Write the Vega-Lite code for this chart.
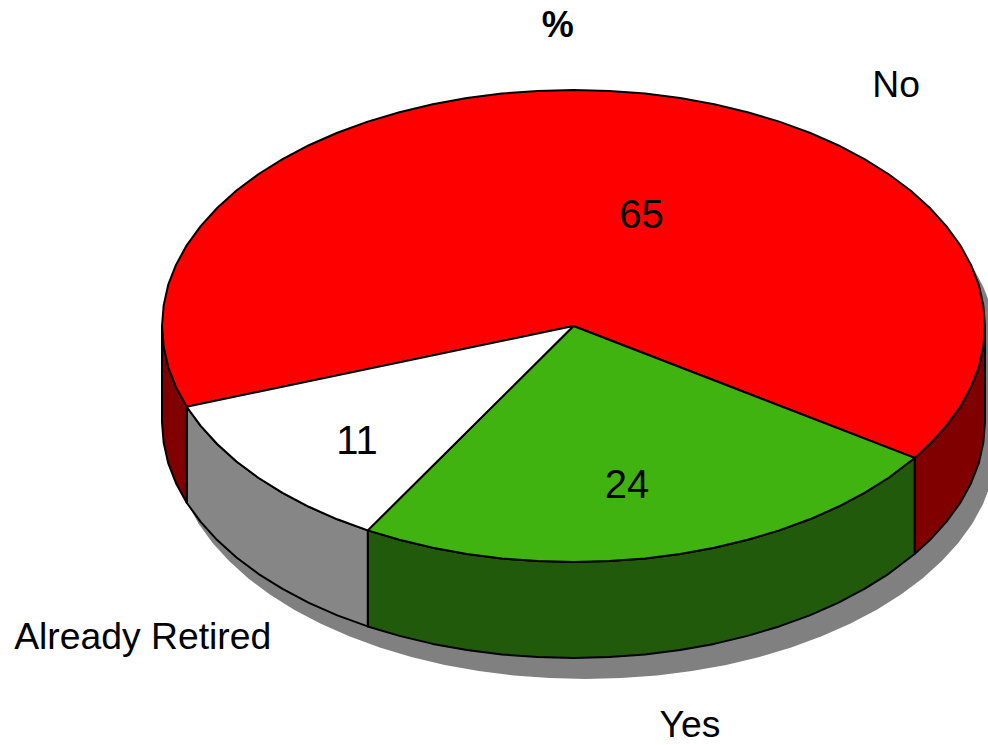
{
"$schema":"https://vega.github.io/schema/vega-lite/v6.json",
"width":988,"height":745,"autosize":"none","padding":0,
"background":"white","view":{"stroke":null},
"datasets":{
"shadow":[
{"i":0,"u":1.029,"v":0.496},{"i":1,"u":1.025,"v":0.583},{"i":2,"u":1.014,"v":0.67},{"i":3,"u":0.995,"v":0.755},{"i":4,"u":0.969,"v":0.838},{"i":5,"u":0.935,"v":0.919},{"i":6,"u":0.895,"v":0.996},{"i":7,"u":0.848,"v":1.07},{"i":8,"u":0.795,"v":1.139},{"i":9,"u":0.736,"v":1.203},{"i":10,"u":0.672,"v":1.262},{"i":11,"u":0.603,"v":1.315},{"i":12,"u":0.529,"v":1.362},{"i":13,"u":0.452,"v":1.402},{"i":14,"u":0.371,"v":1.436},{"i":15,"u":0.288,"v":1.462},{"i":16,"u":0.203,"v":1.481},{"i":17,"u":0.116,"v":1.492},{"i":18,"u":0.029,"v":1.496},{"i":19,"u":-0.058,"v":1.492},{"i":20,"u":-0.145,"v":1.481},{"i":21,"u":-0.23,"v":1.462},{"i":22,"u":-0.313,"v":1.436},{"i":23,"u":-0.394,"v":1.402},{"i":24,"u":-0.471,"v":1.362},{"i":25,"u":-0.545,"v":1.315},{"i":26,"u":-0.614,"v":1.262},{"i":27,"u":-0.678,"v":1.203},{"i":28,"u":-0.737,"v":1.139},{"i":29,"u":-0.79,"v":1.07},{"i":30,"u":-0.837,"v":0.996},{"i":31,"u":-0.877,"v":0.919},{"i":32,"u":-0.911,"v":0.838},{"i":33,"u":-0.937,"v":0.755},{"i":34,"u":-0.956,"v":0.67},{"i":35,"u":-0.967,"v":0.583},{"i":36,"u":-0.971,"v":0.496},
{"i":37,"u":-0.971,"v":0.089},{"i":38,"u":-0.837,"v":-0.411},{"i":39,"u":-0.471,"v":-0.777},{"i":40,"u":0.029,"v":-0.911},{"i":41,"u":0.529,"v":-0.777},{"i":42,"u":0.603,"v":-0.73},{"i":43,"u":0.672,"v":-0.677},{"i":44,"u":0.736,"v":-0.618},{"i":45,"u":0.795,"v":-0.554},{"i":46,"u":0.848,"v":-0.485},{"i":47,"u":0.895,"v":-0.411},{"i":48,"u":0.935,"v":-0.334},{"i":49,"u":0.969,"v":-0.253},{"i":50,"u":0.995,"v":-0.17},{"i":51,"u":1.014,"v":-0.085},{"i":52,"u":1.025,"v":0.002},{"i":53,"u":1.029,"v":0.089}
],
"walls":[
{"piece":"No wall right","i":0,"u":1,"v":0},{"piece":"No wall right","i":1,"u":0.996,"v":0.087},{"piece":"No wall right","i":2,"u":0.985,"v":0.174},{"piece":"No wall right","i":3,"u":0.966,"v":0.259},{"piece":"No wall right","i":4,"u":0.94,"v":0.342},{"piece":"No wall right","i":5,"u":0.906,"v":0.423},{"piece":"No wall right","i":6,"u":0.866,"v":0.5},{"piece":"No wall right","i":7,"u":0.829,"v":0.559},
{"piece":"No wall right","i":8,"u":0.829,"v":0.966},{"piece":"No wall right","i":9,"u":0.866,"v":0.907},{"piece":"No wall right","i":10,"u":0.906,"v":0.83},{"piece":"No wall right","i":11,"u":0.94,"v":0.749},{"piece":"No wall right","i":12,"u":0.966,"v":0.666},{"piece":"No wall right","i":13,"u":0.985,"v":0.581},{"piece":"No wall right","i":14,"u":0.996,"v":0.494},{"piece":"No wall right","i":15,"u":1,"v":0.407},{"piece":"No wall right","i":16,"u":1,"v":0},
{"piece":"Yes wall","i":0,"u":0.829,"v":0.559},{"piece":"Yes wall","i":1,"u":0.766,"v":0.643},{"piece":"Yes wall","i":2,"u":0.707,"v":0.707},{"piece":"Yes wall","i":3,"u":0.643,"v":0.766},{"piece":"Yes wall","i":4,"u":0.574,"v":0.819},{"piece":"Yes wall","i":5,"u":0.5,"v":0.866},{"piece":"Yes wall","i":6,"u":0.423,"v":0.906},{"piece":"Yes wall","i":7,"u":0.342,"v":0.94},{"piece":"Yes wall","i":8,"u":0.259,"v":0.966},{"piece":"Yes wall","i":9,"u":0.174,"v":0.985},{"piece":"Yes wall","i":10,"u":0.087,"v":0.996},{"piece":"Yes wall","i":11,"u":0,"v":1},{"piece":"Yes wall","i":12,"u":-0.087,"v":0.996},{"piece":"Yes wall","i":13,"u":-0.174,"v":0.985},{"piece":"Yes wall","i":14,"u":-0.259,"v":0.966},{"piece":"Yes wall","i":15,"u":-0.342,"v":0.94},{"piece":"Yes wall","i":16,"u":-0.423,"v":0.906},{"piece":"Yes wall","i":17,"u":-0.5,"v":0.866},
{"piece":"Yes wall","i":18,"u":-0.5,"v":1.273},{"piece":"Yes wall","i":19,"u":-0.423,"v":1.313},{"piece":"Yes wall","i":20,"u":-0.342,"v":1.347},{"piece":"Yes wall","i":21,"u":-0.259,"v":1.373},{"piece":"Yes wall","i":22,"u":-0.174,"v":1.392},{"piece":"Yes wall","i":23,"u":-0.087,"v":1.403},{"piece":"Yes wall","i":24,"u":0,"v":1.407},{"piece":"Yes wall","i":25,"u":0.087,"v":1.403},{"piece":"Yes wall","i":26,"u":0.174,"v":1.392},{"piece":"Yes wall","i":27,"u":0.259,"v":1.373},{"piece":"Yes wall","i":28,"u":0.342,"v":1.347},{"piece":"Yes wall","i":29,"u":0.423,"v":1.313},{"piece":"Yes wall","i":30,"u":0.5,"v":1.273},{"piece":"Yes wall","i":31,"u":0.574,"v":1.226},{"piece":"Yes wall","i":32,"u":0.643,"v":1.173},{"piece":"Yes wall","i":33,"u":0.707,"v":1.114},{"piece":"Yes wall","i":34,"u":0.766,"v":1.05},{"piece":"Yes wall","i":35,"u":0.829,"v":0.966},{"piece":"Yes wall","i":36,"u":0.829,"v":0.559},
{"piece":"Already Retired wall","i":0,"u":-0.5,"v":0.866},{"piece":"Already Retired wall","i":1,"u":-0.574,"v":0.819},{"piece":"Already Retired wall","i":2,"u":-0.643,"v":0.766},{"piece":"Already Retired wall","i":3,"u":-0.707,"v":0.707},{"piece":"Already Retired wall","i":4,"u":-0.766,"v":0.643},{"piece":"Already Retired wall","i":5,"u":-0.819,"v":0.574},{"piece":"Already Retired wall","i":6,"u":-0.866,"v":0.5},{"piece":"Already Retired wall","i":7,"u":-0.906,"v":0.423},{"piece":"Already Retired wall","i":8,"u":-0.94,"v":0.342},
{"piece":"Already Retired wall","i":9,"u":-0.94,"v":0.749},{"piece":"Already Retired wall","i":10,"u":-0.906,"v":0.83},{"piece":"Already Retired wall","i":11,"u":-0.866,"v":0.907},{"piece":"Already Retired wall","i":12,"u":-0.819,"v":0.981},{"piece":"Already Retired wall","i":13,"u":-0.766,"v":1.05},{"piece":"Already Retired wall","i":14,"u":-0.707,"v":1.114},{"piece":"Already Retired wall","i":15,"u":-0.643,"v":1.173},{"piece":"Already Retired wall","i":16,"u":-0.574,"v":1.226},{"piece":"Already Retired wall","i":17,"u":-0.5,"v":1.273},{"piece":"Already Retired wall","i":18,"u":-0.5,"v":0.866},
{"piece":"No wall left","i":0,"u":-0.94,"v":0.342},{"piece":"No wall left","i":1,"u":-0.966,"v":0.259},{"piece":"No wall left","i":2,"u":-0.985,"v":0.174},{"piece":"No wall left","i":3,"u":-0.996,"v":0.087},{"piece":"No wall left","i":4,"u":-1,"v":0},
{"piece":"No wall left","i":5,"u":-1,"v":0.407},{"piece":"No wall left","i":6,"u":-0.996,"v":0.494},{"piece":"No wall left","i":7,"u":-0.985,"v":0.581},{"piece":"No wall left","i":8,"u":-0.966,"v":0.666},{"piece":"No wall left","i":9,"u":-0.94,"v":0.749},{"piece":"No wall left","i":10,"u":-0.94,"v":0.342}
],
"tops":[
{"piece":"No top","i":0,"u":0,"v":0},{"piece":"No top","i":1,"u":-0.94,"v":0.342},{"piece":"No top","i":2,"u":-0.966,"v":0.259},{"piece":"No top","i":3,"u":-0.985,"v":0.174},{"piece":"No top","i":4,"u":-0.996,"v":0.087},{"piece":"No top","i":5,"u":-1,"v":0},{"piece":"No top","i":6,"u":-0.996,"v":-0.087},{"piece":"No top","i":7,"u":-0.985,"v":-0.174},{"piece":"No top","i":8,"u":-0.966,"v":-0.259},{"piece":"No top","i":9,"u":-0.94,"v":-0.342},{"piece":"No top","i":10,"u":-0.906,"v":-0.423},{"piece":"No top","i":11,"u":-0.866,"v":-0.5},{"piece":"No top","i":12,"u":-0.819,"v":-0.574},{"piece":"No top","i":13,"u":-0.766,"v":-0.643},{"piece":"No top","i":14,"u":-0.707,"v":-0.707},{"piece":"No top","i":15,"u":-0.643,"v":-0.766},{"piece":"No top","i":16,"u":-0.574,"v":-0.819},{"piece":"No top","i":17,"u":-0.5,"v":-0.866},{"piece":"No top","i":18,"u":-0.423,"v":-0.906},{"piece":"No top","i":19,"u":-0.342,"v":-0.94},{"piece":"No top","i":20,"u":-0.259,"v":-0.966},{"piece":"No top","i":21,"u":-0.174,"v":-0.985},{"piece":"No top","i":22,"u":-0.087,"v":-0.996},{"piece":"No top","i":23,"u":0,"v":-1},{"piece":"No top","i":24,"u":0.087,"v":-0.996},{"piece":"No top","i":25,"u":0.174,"v":-0.985},{"piece":"No top","i":26,"u":0.259,"v":-0.966},{"piece":"No top","i":27,"u":0.342,"v":-0.94},{"piece":"No top","i":28,"u":0.423,"v":-0.906},{"piece":"No top","i":29,"u":0.5,"v":-0.866},{"piece":"No top","i":30,"u":0.574,"v":-0.819},{"piece":"No top","i":31,"u":0.643,"v":-0.766},{"piece":"No top","i":32,"u":0.707,"v":-0.707},{"piece":"No top","i":33,"u":0.766,"v":-0.643},{"piece":"No top","i":34,"u":0.819,"v":-0.574},{"piece":"No top","i":35,"u":0.866,"v":-0.5},{"piece":"No top","i":36,"u":0.906,"v":-0.423},{"piece":"No top","i":37,"u":0.94,"v":-0.342},{"piece":"No top","i":38,"u":0.966,"v":-0.259},{"piece":"No top","i":39,"u":0.985,"v":-0.174},{"piece":"No top","i":40,"u":0.996,"v":-0.087},{"piece":"No top","i":41,"u":1,"v":0},{"piece":"No top","i":42,"u":0.996,"v":0.087},{"piece":"No top","i":43,"u":0.985,"v":0.174},{"piece":"No top","i":44,"u":0.966,"v":0.259},{"piece":"No top","i":45,"u":0.94,"v":0.342},{"piece":"No top","i":46,"u":0.906,"v":0.423},{"piece":"No top","i":47,"u":0.866,"v":0.5},{"piece":"No top","i":48,"u":0.829,"v":0.559},{"piece":"No top","i":49,"u":0,"v":0},
{"piece":"Yes top","i":0,"u":0,"v":0},{"piece":"Yes top","i":1,"u":0.829,"v":0.559},{"piece":"Yes top","i":2,"u":0.766,"v":0.643},{"piece":"Yes top","i":3,"u":0.707,"v":0.707},{"piece":"Yes top","i":4,"u":0.643,"v":0.766},{"piece":"Yes top","i":5,"u":0.574,"v":0.819},{"piece":"Yes top","i":6,"u":0.5,"v":0.866},{"piece":"Yes top","i":7,"u":0.423,"v":0.906},{"piece":"Yes top","i":8,"u":0.342,"v":0.94},{"piece":"Yes top","i":9,"u":0.259,"v":0.966},{"piece":"Yes top","i":10,"u":0.174,"v":0.985},{"piece":"Yes top","i":11,"u":0.087,"v":0.996},{"piece":"Yes top","i":12,"u":0,"v":1},{"piece":"Yes top","i":13,"u":-0.087,"v":0.996},{"piece":"Yes top","i":14,"u":-0.174,"v":0.985},{"piece":"Yes top","i":15,"u":-0.259,"v":0.966},{"piece":"Yes top","i":16,"u":-0.342,"v":0.94},{"piece":"Yes top","i":17,"u":-0.423,"v":0.906},{"piece":"Yes top","i":18,"u":-0.5,"v":0.866},{"piece":"Yes top","i":19,"u":0,"v":0},
{"piece":"Already Retired top","i":0,"u":0,"v":0},{"piece":"Already Retired top","i":1,"u":-0.5,"v":0.866},{"piece":"Already Retired top","i":2,"u":-0.574,"v":0.819},{"piece":"Already Retired top","i":3,"u":-0.643,"v":0.766},{"piece":"Already Retired top","i":4,"u":-0.707,"v":0.707},{"piece":"Already Retired top","i":5,"u":-0.766,"v":0.643},{"piece":"Already Retired top","i":6,"u":-0.819,"v":0.574},{"piece":"Already Retired top","i":7,"u":-0.866,"v":0.5},{"piece":"Already Retired top","i":8,"u":-0.906,"v":0.423},{"piece":"Already Retired top","i":9,"u":-0.94,"v":0.342},{"piece":"Already Retired top","i":10,"u":0,"v":0}
],
"values":[
{"text":"65","u":0.165,"v":-0.467},
{"text":"24","u":0.13,"v":0.677},
{"text":"11","u":-0.526,"v":0.491}
],
"names":[
{"text":"No","u":0.784,"v":-1.017},
{"text":"Yes","u":0.283,"v":1.695},
{"text":"Already Retired","u":-1.047,"v":1.322}
],
"heading":[{"text":"%","u":-0.038,"v":-1.271}]
},
"encoding":{
"x":{"field":"u","type":"quantitative","axis":null,"scale":{"domain":[-1.3937,1.0073],"nice":false,"zero":false}},
"y":{"field":"v","type":"quantitative","axis":null,"scale":{"domain":[-1.3814,1.7754],"nice":false,"zero":false,"reverse":true}}
},
"layer":[
{"data":{"name":"shadow"},
 "mark":{"type":"line","fill":"#808080","stroke":"#808080","strokeWidth":0,"clip":true},
 "encoding":{"order":{"field":"i","type":"quantitative"}}},
{"data":{"name":"walls"},
 "mark":{"type":"line","stroke":"black","strokeWidth":2,"strokeJoin":"round","clip":true},
 "encoding":{"order":{"field":"i","type":"quantitative"},
  "fill":{"field":"piece","type":"nominal","legend":null,"scale":{"domain":["No wall right","No wall left","Yes wall","Already Retired wall"],"range":["#800000","#800000","#215A0A","#868686"]}}}},
{"data":{"name":"tops"},
 "mark":{"type":"line","stroke":"black","strokeWidth":2,"strokeJoin":"round","clip":true},
 "encoding":{"order":{"field":"i","type":"quantitative"},
  "fill":{"field":"piece","type":"nominal","legend":null,"scale":{"domain":["No top","Yes top","Already Retired top"],"range":["#FF0000","#40B310","#FFFFFF"]}}}},
{"data":{"name":"values"},
 "mark":{"type":"text","font":"Liberation Sans","fontSize":40,"color":"black","align":"center","baseline":"middle"},
 "encoding":{"text":{"field":"text","type":"nominal"}}},
{"data":{"name":"names"},
 "mark":{"type":"text","font":"Liberation Sans","fontSize":37.3,"color":"black","align":"center","baseline":"middle"},
 "encoding":{"text":{"field":"text","type":"nominal"}}},
{"data":{"name":"heading"},
 "mark":{"type":"text","font":"Liberation Sans","fontSize":36,"fontWeight":"bold","color":"black","align":"center","baseline":"middle"},
 "encoding":{"text":{"field":"text","type":"nominal"}}}
],
"resolve":{"scale":{"fill":"independent"}}
}
